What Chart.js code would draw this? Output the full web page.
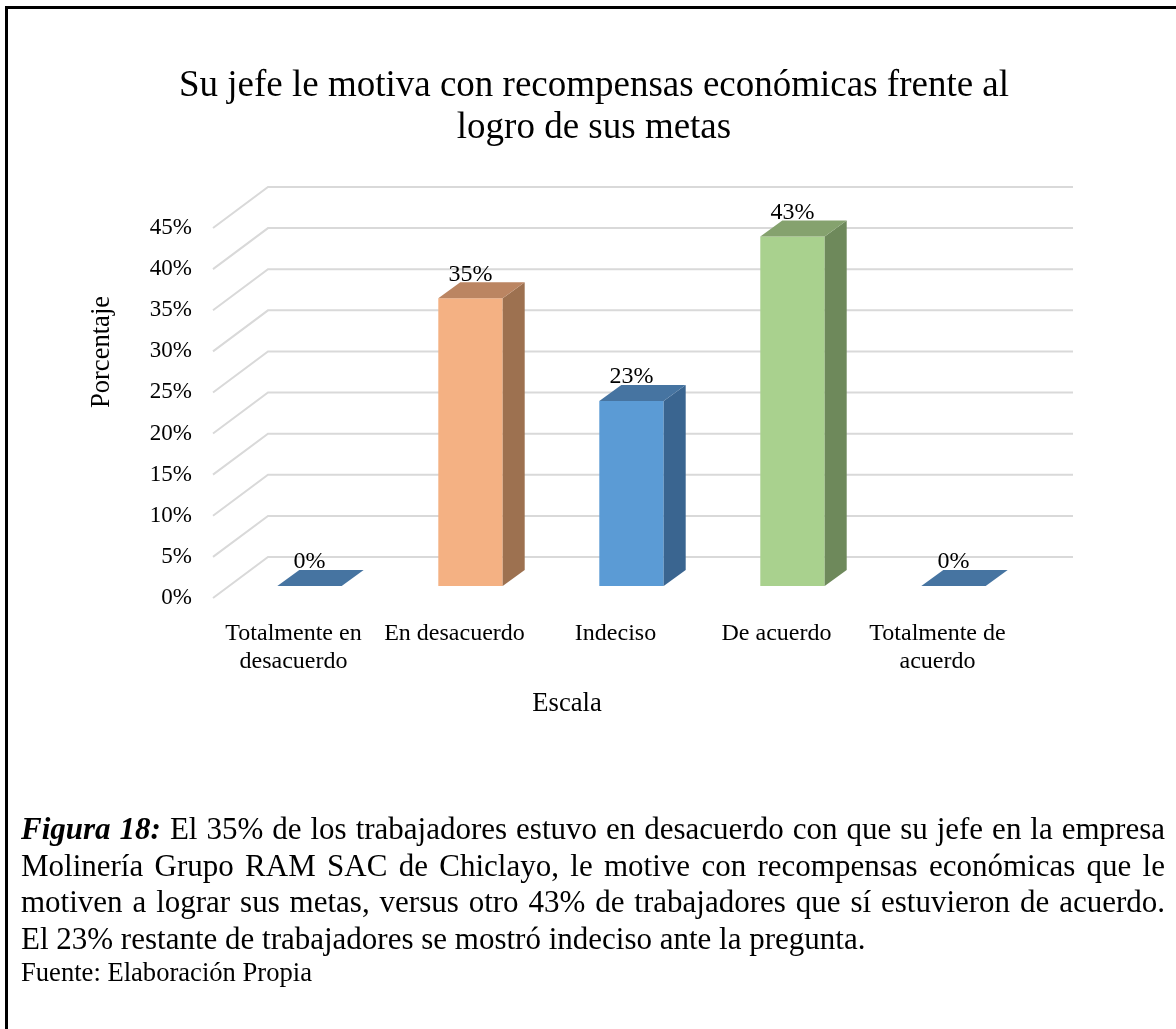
<!DOCTYPE html>
<html><head><meta charset="utf-8">
<script src="https://cdn.jsdelivr.net/npm/chart.js@4.4.1/dist/chart.umd.min.js"></script>
<style>
html,body{margin:0;padding:0;background:#fff;width:1176px;height:1029px;overflow:hidden;}
#frame{position:absolute;left:5px;top:6px;width:1171px;height:1023px;border-top:3px solid #000;border-left:3px solid #000;box-sizing:border-box;}
#wrap{position:absolute;left:0;top:0;width:1176px;height:800px;}
.cap{position:absolute;left:21px;width:1144px;font-family:"Liberation Serif","Times New Roman",serif;color:#000;white-space:nowrap;}
#caption{top:811px;font-size:31px;line-height:36.7px;}
#caption div{text-align:justify;text-align-last:justify;}
#caption div.last{text-align:left;text-align-last:left;}
#fuente{top:957px;font-size:26.6px;line-height:30px;}
</style></head>
<body>
<div id="wrap"><canvas id="c" width="1176" height="800"></canvas></div>
<div id="frame"></div>
<div id="caption" class="cap">
<div><b><i>Figura 18:</i></b> El 35% de los trabajadores estuvo en desacuerdo con que su jefe en la empresa</div>
<div>Molinería Grupo RAM SAC de Chiclayo, le motive con recompensas económicas que le</div>
<div>motiven a lograr sus metas, versus otro 43% de trabajadores que sí estuvieron de acuerdo.</div>
<div class="last">El 23% restante de trabajadores se mostró indeciso ante la pregunta.</div>
</div>
<div id="fuente" class="cap">Fuente: Elaboración Propia</div>
<script>
const categories = [['Totalmente en','desacuerdo'],'En desacuerdo','Indeciso','De acuerdo',['Totalmente de','acuerdo']];
const values = [0, 35, 22.5, 42.5, 0];
const yTickValues = [0, 5, 10, 15, 20, 25, 30, 35, 40, 45];
const titleLines = ['Su jefe le motiva con recompensas económicas frente al', 'logro de sus metas'];
const yAxisTitle = 'Porcentaje';
const xAxisTitle = 'Escala';
const frontColors = ['#5B9BD5','#F4B183','#5B9BD5','#A9D18E','#5B9BD5'];
const sideColors  = ['#3A6590','#9D7150','#3A6590','#6E895B','#3A6590'];
const topColors   = ['#4674A1','#BB8562','#4674A1','#85A26E','#4674A1'];

const FONT = '"Liberation Serif","Times New Roman",serif';
const WALL_DX = 55, WALL_DY = -41;   // depth of the 3D floor/wall
const BAR_SHIFT_X = 16, BAR_SHIFT_Y = -12; // bars sit slightly behind front plane
const BAR_DX = 22, BAR_DY = -16;     // bar depth

const threeD = {
  id: 'threeD',
  beforeDatasetsDraw(chart) {
    const {ctx, chartArea, scales} = chart;
    const ys = scales.y;
    ctx.save();
    ctx.strokeStyle = '#D9D9D9';
    ctx.lineWidth = 2;
    ys.ticks.forEach(t => {
      const y = ys.getPixelForValue(t.value);
      ctx.beginPath();
      ctx.moveTo(chartArea.left, y);
      ctx.lineTo(chartArea.left + WALL_DX, y + WALL_DY);
      ctx.lineTo(chartArea.right + WALL_DX, y + WALL_DY);
      ctx.stroke();
    });
    ctx.restore();
    ctx.save();
    ctx.translate(BAR_SHIFT_X, BAR_SHIFT_Y);
  },
  afterDatasetsDraw(chart) {
    const {ctx} = chart;
    const meta = chart.getDatasetMeta(0);
    meta.data.forEach((el, i) => {
      const p = el.getProps(['x','y','base','width'], true);
      const l = p.x - p.width/2, r = p.x + p.width/2;
      ctx.fillStyle = sideColors[i];
      ctx.beginPath();
      ctx.moveTo(r, p.y); ctx.lineTo(r + BAR_DX, p.y + BAR_DY);
      ctx.lineTo(r + BAR_DX, p.base + BAR_DY); ctx.lineTo(r, p.base);
      ctx.closePath(); ctx.fill();
      ctx.fillStyle = topColors[i];
      ctx.beginPath();
      ctx.moveTo(l, p.y); ctx.lineTo(r, p.y);
      ctx.lineTo(r + BAR_DX, p.y + BAR_DY); ctx.lineTo(l + BAR_DX, p.y + BAR_DY);
      ctx.closePath(); ctx.fill();
    });
    ctx.restore();
    ctx.save();
    ctx.fillStyle = '#000';
    ctx.font = '24px ' + FONT;
    ctx.textAlign = 'center';
    ctx.textBaseline = 'middle';
    meta.data.forEach((el, i) => {
      const p = el.getProps(['x','y'], true);
      ctx.fillText(Math.round(values[i]) + '%', p.x + BAR_SHIFT_X, p.y + BAR_SHIFT_Y - 24);
    });
    ctx.restore();
  },
  afterDraw(chart) {
    const {ctx} = chart;
    ctx.save();
    ctx.fillStyle = '#000';
    ctx.font = '26.6px ' + FONT;
    ctx.textAlign = 'center';
    ctx.textBaseline = 'middle';
    ctx.fillText(xAxisTitle, 567, 704);
    ctx.translate(102, 352);
    ctx.rotate(-Math.PI/2);
    ctx.fillText(yAxisTitle, 0, 0);
    ctx.restore();
  }
};

new Chart(document.getElementById('c'), {
  type: 'bar',
  data: {
    labels: categories,
    datasets: [{
      data: values,
      backgroundColor: frontColors,
      borderWidth: 0,
      categoryPercentage: 1.0,
      barPercentage: 0.4,
      clip: false
    }]
  },
  options: {
    responsive: false,
    animation: false,
    devicePixelRatio: 1,
    layout: { padding: { left: 170, right: 158, top: 0, bottom: 0 } },
    plugins: {
      legend: { display: false },
      tooltip: { enabled: false },
      title: {
        display: true,
        text: titleLines,
        color: '#000',
        font: { family: FONT, size: 37, weight: 'normal', lineHeight: 1.135 },
        padding: { top: 65, bottom: 79 }
      }
    },
    scales: {
      x: {
        grid: { display: false },
        border: { display: false },
        ticks: {
          color: '#000', padding: 14, maxRotation: 0, autoSkip: false,
          font: { family: FONT, size: 24, lineHeight: 1.17 }
        },
        afterFit(s) { s.height = 202; }
      },
      y: {
        min: 0, max: 45,
        grid: { display: false },
        border: { display: false },
        afterBuildTicks(s) { s.ticks = yTickValues.map(v => ({value: v})); },
        ticks: {
          color: '#000', padding: 13,
          font: { family: FONT, size: 23 },
          callback: v => v + '%'
        },
        afterFit(s) { s.width = 43; s._computeLabelArea = () => undefined; }
      }
    }
  },
  plugins: [threeD]
});
</script>
</body></html>
